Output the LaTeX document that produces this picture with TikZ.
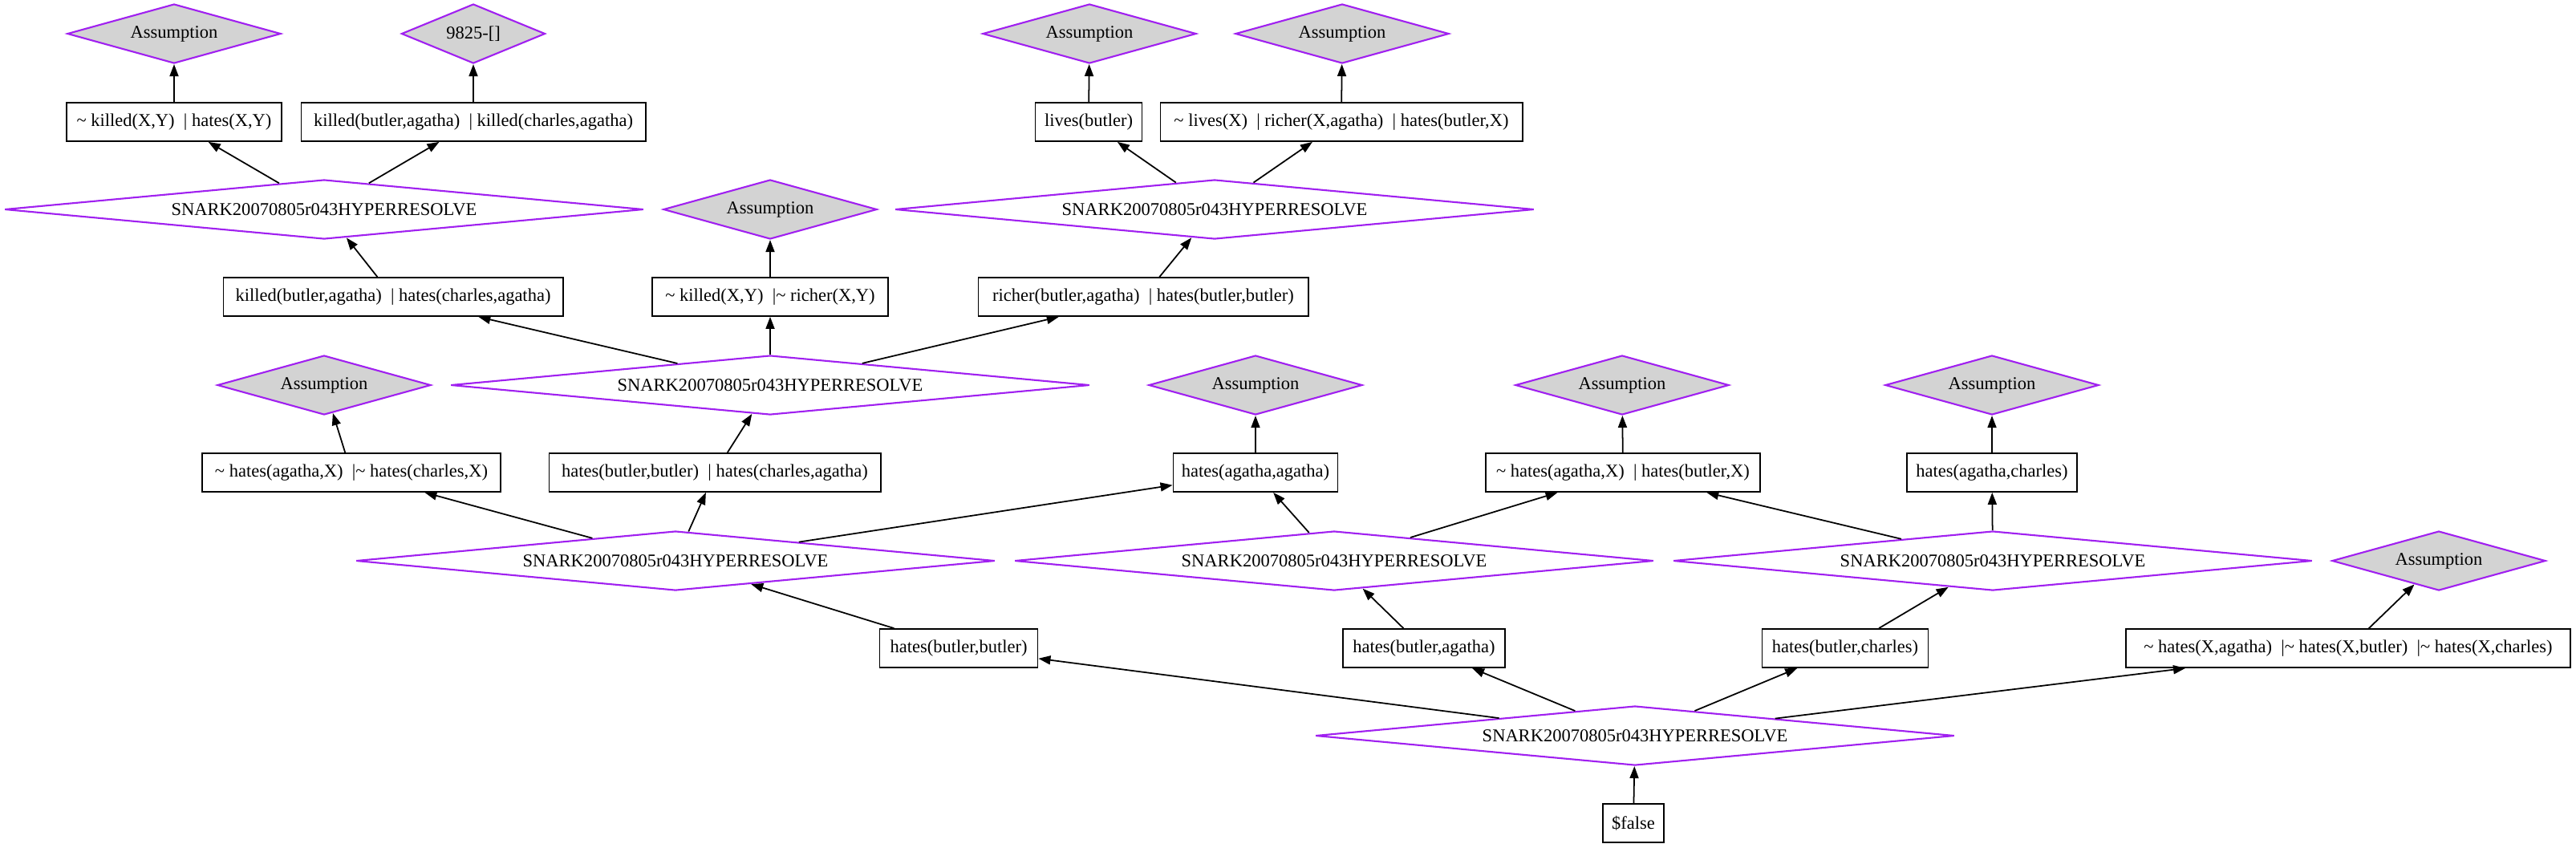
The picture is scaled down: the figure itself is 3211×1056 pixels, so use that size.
\documentclass[tikz,border=0pt]{standalone}
\usepackage{fontspec}
\setmainfont{Liberation Serif}
\usepackage{xcolor}
\usepackage{tikz}
\usetikzlibrary{arrows.meta,shapes.geometric}
\definecolor{gvpurple}{HTML}{A020F0}
\definecolor{gvgray}{HTML}{D3D3D3}
\newcommand{\negl}{\textasciitilde\ }
\newcommand{\orsep}{~~|}
\tikzset{
  clause/.style={draw=black, line width=0.5pt, fill=white, rectangle, inner xsep=1mm,
                 inner ysep=0pt, minimum height=4.8mm, minimum width=#1,
                 font=\fontsize{6.4pt}{7.6pt}\selectfont},
  clause/.default=1cm,
  resolve/.style={draw=gvpurple, line width=0.6pt, fill=white, diamond, aspect=10, inner sep=0pt,
                  minimum width=7.96cm, minimum height=7.4mm, font=\fontsize{6.4pt}{7.6pt}\selectfont},
  axiom/.style={draw=gvpurple, line width=0.6pt, fill=gvgray, diamond, aspect=3.6, inner sep=0pt,
                minimum width=2.66cm, minimum height=7.4mm, font=\fontsize{6.4pt}{7.6pt}\selectfont},
  infer/.style={-{Triangle[length=1.5mm, width=1.1mm]}, line width=0.5pt, draw=black}
}
\begin{document}
\begin{tikzpicture}[x=0.01cm, y=-0.01cm]
  \useasboundingbox (0,0) rectangle (3211,1056);
  \node[axiom] (a1) at (217,42) {Assumption};
  \node[axiom, minimum width=1.79cm] (a2) at (590,42) {9825-[]};
  \node[axiom] (a3) at (1358,42) {Assumption};
  \node[axiom] (a4) at (1673,42) {Assumption};
  \node[clause=2.68cm] (b1) at (217,152) {\negl killed(X,Y)\orsep~hates(X,Y)};
  \node[clause=4.29cm] (b2) at (590,152) {killed(butler,agatha)\orsep~killed(charles,agatha)};
  \node[clause=1.33cm] (b3) at (1357,152) {lives(butler)};
  \node[clause=4.51cm] (b4) at (1672,152) {\negl lives(X)\orsep~richer(X,agatha)\orsep~hates(butler,X)};
  \node[resolve] (c1) at (404,261) {SNARK20070805r043HYPERRESOLVE};
  \node[axiom] (c2) at (960,261) {Assumption};
  \node[resolve] (c3) at (1514,261) {SNARK20070805r043HYPERRESOLVE};
  \node[clause=4.23cm] (d1) at (490,370) {killed(butler,agatha)\orsep~hates(charles,agatha)};
  \node[clause=2.94cm] (d2) at (960,370) {\negl killed(X,Y)\orsep\negl richer(X,Y)};
  \node[clause=4.11cm] (d3) at (1425,370) {richer(butler,agatha)\orsep~hates(butler,butler)};
  \node[axiom] (e1) at (404,480) {Assumption};
  \node[resolve] (e2) at (960,480) {SNARK20070805r043HYPERRESOLVE};
  \node[axiom] (e3) at (1565,480) {Assumption};
  \node[axiom] (e4) at (2022,480) {Assumption};
  \node[axiom] (e5) at (2483,480) {Assumption};
  \node[clause=3.72cm] (f1) at (438,589) {\negl hates(agatha,X)\orsep\negl hates(charles,X)};
  \node[clause=4.13cm] (f2) at (891,589) {hates(butler,butler)\orsep~hates(charles,agatha)};
  \node[clause=2.05cm] (f3) at (1565,589) {hates(agatha,agatha)};
  \node[clause=3.42cm] (f4) at (2023,589) {\negl hates(agatha,X)\orsep~hates(butler,X)};
  \node[clause=2.12cm] (f5) at (2483,589) {hates(agatha,charles)};
  \node[resolve] (g1) at (842,699) {SNARK20070805r043HYPERRESOLVE};
  \node[resolve] (g2) at (1663,699) {SNARK20070805r043HYPERRESOLVE};
  \node[resolve] (g3) at (2484,699) {SNARK20070805r043HYPERRESOLVE};
  \node[axiom] (g4) at (3040,699) {Assumption};
  \node[clause=1.97cm] (h1) at (1195,808) {hates(butler,butler)};
  \node[clause=2.02cm] (h2) at (1775,808) {hates(butler,agatha)};
  \node[clause=2.07cm] (h3) at (2300,808) {hates(butler,charles)};
  \node[clause=5.54cm] (h4) at (2927,808) {\negl hates(X,agatha)\orsep\negl hates(X,butler)\orsep\negl hates(X,charles)};
  \node[resolve] (i1) at (2038,917) {SNARK20070805r043HYPERRESOLVE};
  \node[clause=0.76cm] (j1) at (2036,1026) {\$false};
  \draw[infer] (b1) -- (a1);
  \draw[infer] (b2) -- (a2);
  \draw[infer] (b3) -- (a3);
  \draw[infer] (b4) -- (a4);
  \draw[infer] (c1) -- (b1);
  \draw[infer] (c1) -- (b2);
  \draw[infer] (c3) -- (b3);
  \draw[infer] (c3) -- (b4);
  \draw[infer] (d1) -- (c1);
  \draw[infer] (d2) -- (c2);
  \draw[infer] (d3) -- (c3);
  \draw[infer] (e2) -- (d1);
  \draw[infer] (e2) -- (d2);
  \draw[infer] (e2) -- (d3);
  \draw[infer] (f1) -- (e1);
  \draw[infer] (f2) -- (e2);
  \draw[infer] (f3) -- (e3);
  \draw[infer] (f4) -- (e4);
  \draw[infer] (f5) -- (e5);
  \draw[infer] (g1) -- (f1);
  \draw[infer] (g1) -- (f2);
  \draw[infer] (g1) -- (f3);
  \draw[infer] (g2) -- (f3);
  \draw[infer] (g2) -- (f4);
  \draw[infer] (g3) -- (f4);
  \draw[infer] (g3) -- (f5);
  \draw[infer] (h1) -- (g1);
  \draw[infer] (h2) -- (g2);
  \draw[infer] (h3) -- (g3);
  \draw[infer] (h4) -- (g4);
  \draw[infer] (i1) -- (h1);
  \draw[infer] (i1) -- (h2);
  \draw[infer] (i1) -- (h3);
  \draw[infer] (i1) -- (h4);
  \draw[infer] (j1) -- (i1);
\end{tikzpicture}
\end{document}
